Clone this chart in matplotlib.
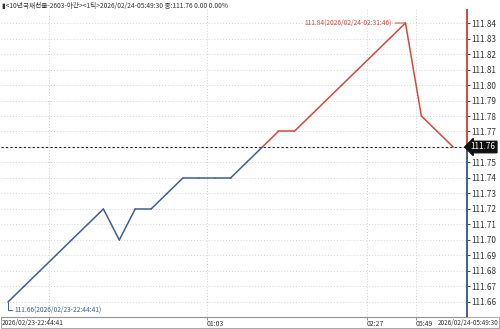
import matplotlib
matplotlib.use("Agg")
import matplotlib.pyplot as plt
import matplotlib.transforms as mtransforms
from matplotlib.patches import Rectangle

plt.rcParams['font.family'] = ['Noto Sans CJK KR', 'DejaVu Sans']

# price per tick (index based x axis)
prices = [111.66, 111.67, 111.68, 111.69, 111.70, 111.71, 111.72, 111.70, 111.72, 111.72,
          111.73, 111.74, 111.74, 111.74, 111.74, 111.75, 111.76, 111.77, 111.77, 111.78,
          111.79, 111.80, 111.81, 111.82, 111.83, 111.84, 111.78, 111.77, 111.76]
last_price = 111.76
yticks = [111.66, 111.67, 111.68, 111.69, 111.70, 111.71, 111.72, 111.73, 111.74,
          111.75, 111.76, 111.77, 111.78, 111.79, 111.80, 111.81, 111.82, 111.83, 111.84]
grid_x = [2.58, 12.52, 22.58, 25.66]
grid_labels = ["", "01:03", "02:27", "05:49"]
start_label = "2026/02/23-22:44:41"
end_label = "2026/02/24-05:49:30"
title = "▮<10년국채선물-2603-야간><1틱>2026/02/24-05:49:30 종:111.76 0.00 0.00%"
hi_text = "111.84(2026/02/24-02:31:46)"
lo_text = "111.66(2026/02/23-22:44:41)"

RED = "#d04a3c"
BLUE = "#3d5f94"
TXT = "#333333"
FS = 5.0

fig = plt.figure(figsize=(5.0, 3.29), dpi=100)
ax = fig.add_axes([0.002, 1 - 317 / 329, 0.932, 307 / 329])
ax.set_xlim(-0.44, 28.87)
ax.set_ylim(111.6503, 111.8484)

# grid
for y in yticks:
    ax.axhline(y, color="#d4d4d4", lw=0.7, ls=(0, (1, 2)), zorder=0)
for x in grid_x:
    ax.axvline(x, color="#cfcfcf", lw=0.7, ls=(0, (1, 2)), zorder=0)

# price line, red above last price, blue below
xs = list(range(len(prices)))
for i in range(len(prices) - 1):
    up = prices[i] >= last_price and prices[i + 1] >= last_price
    ax.plot(xs[i:i + 2], prices[i:i + 2], color=RED if up else BLUE, lw=1.1,
            solid_capstyle="round")

ax.axhline(last_price, color="#222222", lw=0.8, ls=(0, (2, 2)), zorder=1)

# spines
for s in ["top", "left", "right"]:
    ax.spines[s].set_visible(False)
ax.spines["bottom"].set_color("#777777")
ax.spines["bottom"].set_linewidth(0.8)

trans = mtransforms.blended_transform_factory(ax.transAxes, ax.transData)
ylo, yhi = ax.get_ylim()
ax.plot([1, 1], [last_price, yhi], color=RED, lw=1.4, transform=trans, clip_on=False)
ax.plot([1, 1], [ylo, last_price], color=BLUE, lw=1.4, transform=trans, clip_on=False)

ax.yaxis.tick_right()
ax.set_yticks(yticks)
ax.set_yticklabels([f"{v:.2f}" for v in yticks], fontsize=5.9, color=TXT)
ax.tick_params(axis="y", length=2.2, width=0.6, pad=0.8, colors=TXT)
ax.set_xticks(grid_x)
ax.set_xticklabels(grid_labels, fontsize=FS, color=TXT, ha="left")
ax.tick_params(axis="x", length=2, width=0.6, pad=0.5, colors="#777777", labelcolor=TXT)

# last price tag
ax.text(1.008, last_price, f"{last_price:.2f}", transform=trans, fontsize=5.9,
        color="white", va="center", ha="left",
        bbox=dict(boxstyle="larrow,pad=0.15", fc="#111111", ec="#111111"))

# high / low annotations
hi_i = prices.index(max(prices))
ax.annotate(hi_text, xy=(hi_i, prices[hi_i]), xytext=(-9.5, 0), textcoords="offset points",
            ha="right", va="center", fontsize=4.8, color=RED,
            arrowprops=dict(arrowstyle="-", color=RED, lw=0.7, shrinkA=0, shrinkB=0))
lo_i = prices.index(min(prices))
ax.annotate(lo_text, xy=(lo_i, prices[lo_i]), xytext=(5, -5.5), textcoords="offset points",
            ha="left", va="center", fontsize=4.8, color=BLUE,
            arrowprops=dict(arrowstyle="-", color=BLUE, lw=0.7, shrinkA=0, shrinkB=0,
                            connectionstyle="angle,angleA=0,angleB=90,rad=0"))

# bottom time strip
fig.patches.append(Rectangle((0.001, 0.002), 0.997, (329 - 317) / 329 - 0.002,
                             transform=fig.transFigure, fill=False, ec="#999999", lw=0.6))
fig.text(0.004, 1 - 322.5 / 329, start_label, fontsize=4.7, color=TXT, va="center", ha="left")
fig.text(0.997, 1 - 322.5 / 329, end_label, fontsize=4.6, color=TXT, va="center", ha="right")

fig.text(0.003, 1 - 6 / 329, title, fontsize=4.8, color=TXT, va="center", ha="left")

fig.savefig("out.png", dpi=100, facecolor="white")
